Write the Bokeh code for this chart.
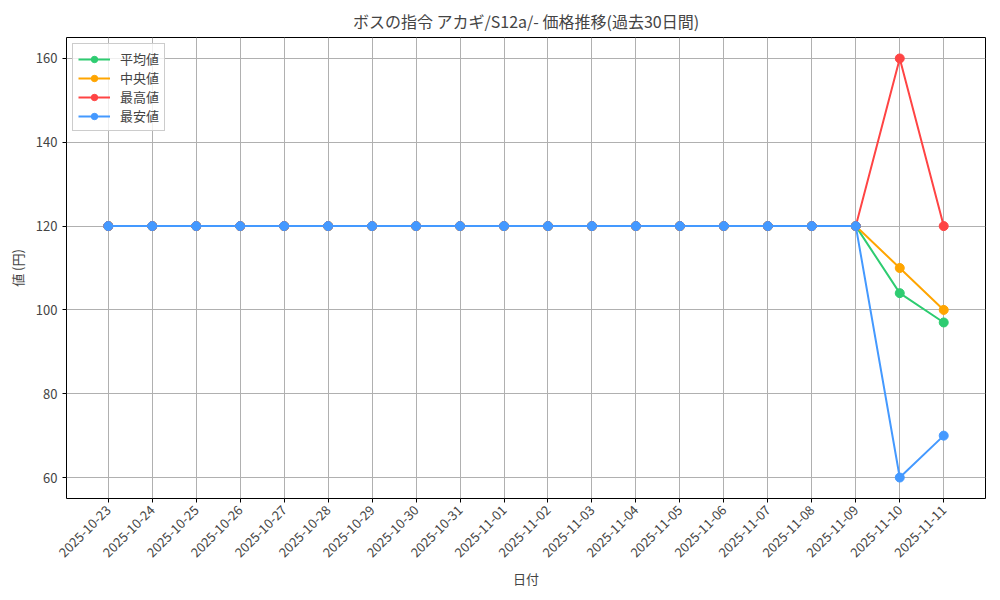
import math

from bokeh.embed import file_html
from bokeh.models import FixedTicker, Legend, LegendItem, Range1d
from bokeh.plotting import figure
from bokeh.resources import INLINE

dates = [
    "2025-10-23", "2025-10-24", "2025-10-25", "2025-10-26", "2025-10-27",
    "2025-10-28", "2025-10-29", "2025-10-30", "2025-10-31", "2025-11-01",
    "2025-11-02", "2025-11-03", "2025-11-04", "2025-11-05", "2025-11-06",
    "2025-11-07", "2025-11-08", "2025-11-09", "2025-11-10", "2025-11-11",
]
avg_price = [120] * 18 + [104, 97]
median_price = [120] * 18 + [110, 100]
max_price = [120] * 18 + [160, 120]
min_price = [120] * 18 + [60, 70]
y_ticks = [60, 80, 100, 120, 140, 160]

series = [
    ("平均値", avg_price, "#2ecc71"),
    ("中央値", median_price, "#ffa500"),
    ("最高値", max_price, "#ff4444"),
    ("最安値", min_price, "#4499ff"),
]

FONT = "Noto Sans CJK JP"
xs = list(range(len(dates)))

p = figure(width=992, height=592, output_backend="svg", toolbar_location=None,
           x_range=Range1d(-0.95, len(dates) - 1 + 0.95),
           y_range=Range1d(55, 165),
           min_border_left=66, min_border_right=7,
           min_border_top=37, min_border_bottom=94)

p.title.text = "ボスの指令 アカギ/S12a/- 価格推移(過去30日間)"
p.title.align = "center"
p.title.text_font = FONT
p.title.text_font_size = "16px"
p.title.text_font_style = "normal"
p.title.offset = 2

p.outline_line_color = "black"
p.outline_line_width = 1

for ax in (p.xaxis[0], p.yaxis[0]):
    ax.axis_line_color = None
    ax.major_tick_line_color = "black"
    ax.major_tick_out = 4
    ax.major_tick_in = 0
    ax.minor_tick_line_color = None
    ax.major_label_text_font = FONT
    ax.major_label_text_font_size = "13px"
    ax.axis_label_text_font = FONT
    ax.axis_label_text_font_size = "13px"
    ax.axis_label_text_font_style = "normal"

p.xaxis.ticker = FixedTicker(ticks=xs)
p.xaxis.major_label_overrides = {i: d for i, d in enumerate(dates)}
p.xaxis.major_label_orientation = math.pi / 4
p.xaxis.axis_label = "日付"
p.xaxis.axis_label_standoff = 4
p.yaxis.ticker = FixedTicker(ticks=y_ticks)
p.yaxis.axis_label = "値 (円)"
p.yaxis.axis_label_standoff = 6

p.grid.grid_line_color = "#b0b0b0"
p.grid.grid_line_width = 1

items = []
for name, vals, color in series:
    ln = p.line(xs, vals, line_color=color, line_width=2)
    pt = p.scatter(xs, vals, size=9, fill_color=color, line_color=color)
    items.append(LegendItem(label=name, renderers=[ln, pt]))

legend = Legend(items=items, location="top_left",
                label_text_font=FONT, label_text_font_size="13px",
                border_line_color="#cccccc", border_line_alpha=1,
                background_fill_alpha=0.8,
                margin=6, padding=5, spacing=0, glyph_width=32,
                label_height=16, glyph_height=16, label_standoff=10)
p.add_layout(legend)

open("out.html", "w").write(file_html(p, INLINE))
